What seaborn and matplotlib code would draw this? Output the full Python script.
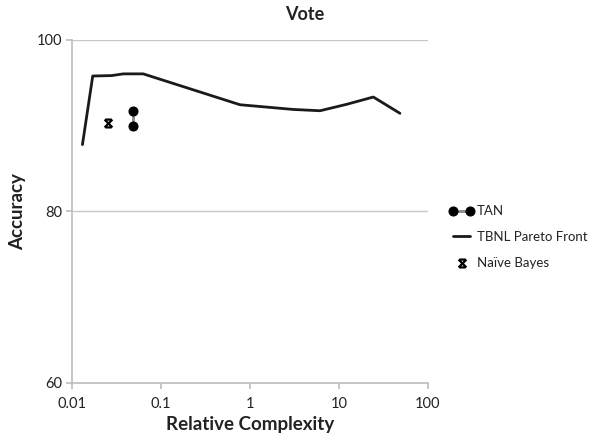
import numpy as np
import pandas as pd
import matplotlib
matplotlib.use("Agg")
import matplotlib.pyplot as plt
from matplotlib.path import Path
import seaborn as sns

# Data
pareto_x = [0.0131, 0.0171, 0.0279, 0.0377, 0.0632, 0.772, 3.07, 6.12, 12.2, 24.3, 48.4]
pareto_y = [87.8, 95.8, 95.85, 96.05, 96.05, 92.45, 91.9, 91.75, 92.5, 93.35, 91.45]
tan_x = [0.0489, 0.0489]
tan_y = [91.7, 90.0]
nb_x = [0.0256]
nb_y = [90.3]
y_ticks = [60, 80, 100]
x_ticks = [0.01, 0.1, 1, 10, 100]
x_ticklabels = ["0.01", "0.1", "1", "10", "100"]

sns.set_theme(style="white")
plt.rcParams['font.family'] = ['Lato', 'DejaVu Sans']

fig = plt.figure(figsize=(5.91, 4.38), dpi=100)
ax = fig.add_axes([72/591, 1-383/438, (428-72)/591, (383-40)/438])

pareto = pd.DataFrame({"x": pareto_x, "y": pareto_y})
tan = pd.DataFrame({"x": tan_x, "y": tan_y})
nb = pd.DataFrame({"x": nb_x, "y": nb_y})

star_marker = Path(
    [(-1, -1), (1, 1), (-1, 1), (1, -1), (-0.8, 1), (0.8, 1), (-0.8, -1), (0.8, -1)],
    [Path.MOVETO, Path.LINETO, Path.MOVETO, Path.LINETO,
     Path.MOVETO, Path.LINETO, Path.MOVETO, Path.LINETO])

ax.set_xscale("log")
sns.lineplot(data=tan, x="x", y="y", ax=ax, estimator=None, sort=False,
             color="#8a8a8a", lw=2, marker="o", markersize=6.5,
             markerfacecolor="black", markeredgecolor="black", label="TAN")
sns.lineplot(data=pareto, x="x", y="y", ax=ax, estimator=None, sort=False,
             color="#1a1a1a", lw=2, label="TBNL Pareto Front")
sns.scatterplot(data=nb, x="x", y="y", ax=ax, marker=star_marker, s=32,
                color="black", edgecolor="black", linewidth=1.6, label="Naïve Bayes")

ax.set_xlim(0.01, 100)
ax.set_ylim(60, 100)
ax.set_yticks(y_ticks)
ax.set_xticks(x_ticks)
ax.set_xticklabels(x_ticklabels)
ax.minorticks_off()
for y in [80, 100]:
    ax.axhline(y, color="#c8c8c8", lw=1, zorder=0)

for s in ["top", "right"]:
    ax.spines[s].set_visible(False)
ax.spines["left"].set_color("#bfbfbf")
ax.spines["bottom"].set_color("#bfbfbf")
ax.tick_params(axis="both", which="major", length=4, color="#bfbfbf",
               labelsize=10.5, labelcolor="#222222", direction="out",
               bottom=True, left=True)
ax.tick_params(axis="x", pad=6)
ax.tick_params(axis="y", pad=3)

ax.set_xlabel("Relative Complexity", fontsize=13.5, fontweight="bold", color="#222222", labelpad=4)
ax.set_ylabel("Accuracy", fontsize=13.5, fontweight="bold", color="#222222", labelpad=8)

fig.text(305/591, 1-14/438, "Vote", ha="center", va="center",
         fontsize=13, fontweight="bold", color="#222222")

handles, labels = ax.get_legend_handles_labels()
leg = ax.legend(handles, labels, loc="center left", bbox_to_anchor=(1.059, 0.4257),
                frameon=False, fontsize=9.5, numpoints=2, scatterpoints=1,
                borderpad=0, borderaxespad=0,
                handlelength=1.9, handletextpad=0.2, labelspacing=1.05)
for t in leg.get_texts():
    t.set_color("#222222")

fig.savefig("out.png", dpi=100)
